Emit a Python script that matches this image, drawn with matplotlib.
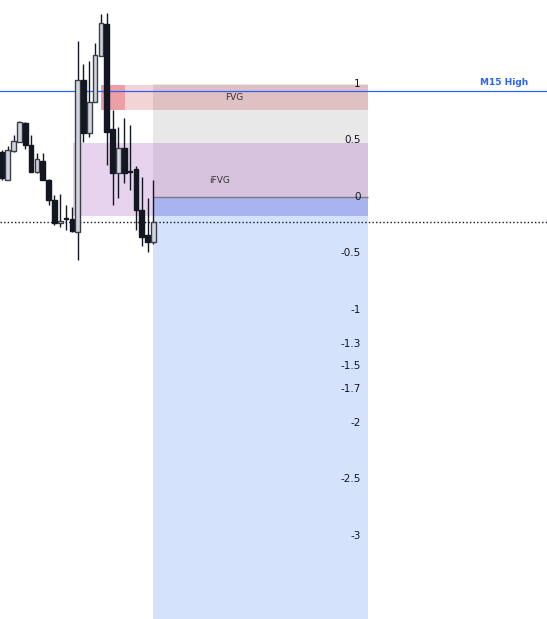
import matplotlib.pyplot as plt
from matplotlib.patches import Rectangle

# candles, prices expressed in fib units of the drawn range
opens = [0.401, 0.153, 0.410, 0.489, 0.658, 0.460, 0.224, 0.319, 0.150, -0.027,
         -0.233, -0.195, -0.195, -0.307, 1.035, 0.564, 0.838, 1.250, 1.528, 0.599,
         0.215, 0.431, 0.224, 0.248, -0.115, -0.336, -0.396]
highs = [0.416, 0.451, 0.549, 0.673, 0.664, 0.549, 0.387, 0.387, 0.155, 0.018,
         0.027, -0.071, -0.088, 1.381, 1.174, 1.204, 1.360, 1.617, 1.626, 0.770,
         0.622, 0.700, 0.637, 0.274, 0.177, -0.009, 0.150]
lows = [0.150, 0.150, 0.398, 0.487, 0.422, 0.221, 0.210, 0.146, -0.071, -0.248,
        -0.268, -0.292, -0.310, -0.558, 0.489, 0.531, 0.836, 1.248, 0.283, -0.071,
        -0.006, 0.127, 0.062, -0.292, -0.431, -0.487, -0.416]
closes = [0.165, 0.413, 0.493, 0.661, 0.460, 0.224, 0.334, 0.150, -0.027, -0.233,
          -0.215, -0.197, -0.298, 1.035, 0.569, 0.843, 1.257, 1.537, 0.578, 0.210,
          0.431, 0.215, 0.221, -0.115, -0.351, -0.396, -0.224]

fib_levels = [1, 0.5, 0, -0.5, -1, -1.3, -1.5, -1.7, -2, -2.5, -3]
fib_labels = ["1", "0.5", "0", "-0.5", "-1", "-1.3", "-1.5", "-1.7", "-2", "-2.5", "-3"]

# zones (start bar, end bar, low, high)
fvg = (17.0, 62.9, 0.77, 0.99)
fvg_origin = (17.0, 21.1, 0.77, 0.99)
ifvg = (12.2, 62.9, -0.168, 0.478)
fib_start, fib_end = 25.9, 62.9
m15_high = 0.938

BEAR = "#131722"
BULL = "#d1d4dc"

fig = plt.figure(figsize=(5.47, 6.19), dpi=100)
ax = fig.add_axes([0, 0, 1, 1])
ax.set_xlim(-0.344, 93.64)
ax.set_ylim(-3.735, 1.743)
ax.axis("off")

# fib boxes
ax.add_patch(Rectangle((fib_start, 0), fib_end - fib_start, 1, color="#e8e8e8", lw=0, zorder=1))
ax.add_patch(Rectangle((fib_start, -4), fib_end - fib_start, 4, color="#d5e2fc", lw=0, zorder=1))

# FVG boxes
x0, x1, lo, hi = fvg
ax.add_patch(Rectangle((x0, lo), x1 - x0, hi - lo, color="#b4000e", alpha=0.17, lw=0, zorder=2))
x0, x1, lo, hi = fvg_origin
ax.add_patch(Rectangle((x0, lo), x1 - x0, hi - lo, color="#e8606c", alpha=0.45, lw=0, zorder=2))
x0, x1, lo, hi = ifvg
ax.add_patch(Rectangle((x0, lo), x1 - x0, hi - lo, color="#b070c8", alpha=0.3, lw=0, zorder=2))
# overlap of iFVG with the extension zone
ax.add_patch(Rectangle((fib_start, lo), fib_end - fib_start, min(hi, 0) - lo,
                       color="#a9b4ef", lw=0, zorder=2))

ax.hlines(0, fib_start, fib_end, color="#787b86", lw=1, zorder=3)

for lvl, lab in zip(fib_levels, fib_labels):
    ax.text(61.6, lvl, lab, ha="right", va="center", fontsize=7.5, color="#131722", zorder=6)

ax.text(39.9, 0.876, "FVG", ha="center", va="center", fontsize=6.5, color="#333333", zorder=6)
ax.text(37.3, 0.150, "iFVG", ha="center", va="center", fontsize=6.5, color="#333333", zorder=6)

# candles
for i in range(len(opens)):
    o, h, l, c = opens[i], highs[i], lows[i], closes[i]
    ax.vlines(i, l, h, color=BEAR, lw=1, zorder=4)
    bottom, top = min(o, c), max(o, c)
    if top - bottom < 0.012:
        top = bottom + 0.012
    if c >= o:
        ax.add_patch(Rectangle((i - 0.4, bottom), 0.8, top - bottom, facecolor=BULL,
                               edgecolor="#3b3e45", lw=1.0, zorder=5))
    else:
        ax.add_patch(Rectangle((i - 0.4, bottom), 0.8, top - bottom, facecolor=BEAR,
                               edgecolor=BEAR, lw=1.0, zorder=5))

# M15 high and last price
ax.axhline(m15_high, color="#2962ff", lw=0.9, zorder=3)
ax.text(90.4, m15_high + 0.035, "M15 High", ha="right", va="bottom", fontsize=6.5,
        color="#2962ff", fontweight="bold", zorder=6)
ax.axhline(closes[-1], color="#131722", lw=1, ls=(0, (1, 1.6)), zorder=3)

fig.savefig("out.png", dpi=100)
